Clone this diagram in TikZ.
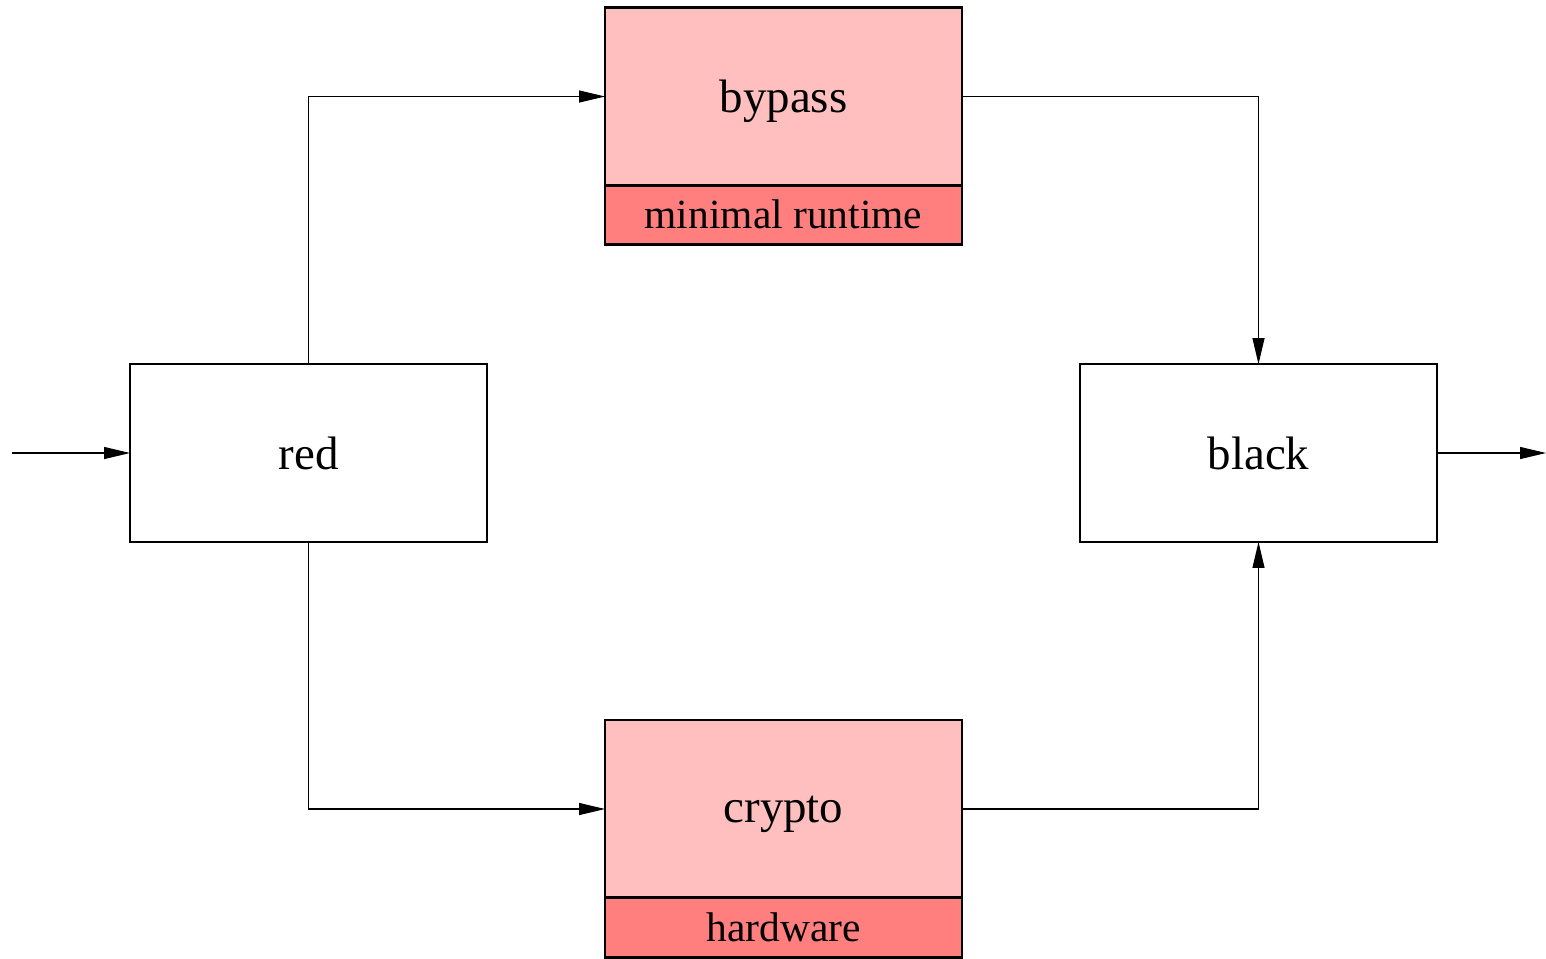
\documentclass[tikz,border=0pt]{standalone}
\usepackage{fontspec}
\setmainfont{Liberation Serif}
\usetikzlibrary{arrows.meta}
\definecolor{lightpink}{HTML}{FFBFBF}
\definecolor{darkpink}{HTML}{FF7F7F}
\tikzset{
  box/.style={draw, line width=1.5pt, inner sep=0pt, outer sep=0pt, minimum width=7.14cm, minimum height=3.56cm, text depth=0pt, font=\fontsize{26.7}{30}\selectfont},
  upper/.style={box, fill=lightpink},
  lower/.style={draw, line width=1.5pt, inner sep=0pt, outer sep=0pt, minimum width=7.14cm, minimum height=1.19cm, fill=darkpink, font=\fontsize{23.6}{26}\selectfont},
  conn/.style={line width=0.6pt, -{Triangle[length=14.7pt,width=6.8pt]}},
}
\begin{document}
\begin{tikzpicture}[x=0.02cm,y=-0.02cm]
\useasboundingbox (0,0) rectangle (1546,958);
\node[box] (red) at (308.5,453) {red};
\node[box] (black) at (1258.5,453) {black};
\node[upper] (bypass) at (783.5,96.5) {bypass};
\node[lower] (minrt) at (783.5,215) {\raisebox{1.5pt}{minimal runtime}};
\node[upper] (crypto) at (783.5,809) {crypto};
\node[lower] (hw) at (783.5,927.5) {hardware};
\coordinate (in) at (12,453);
\coordinate (out) at (1546,453);
\draw[conn] (in) -- (red.west);
\draw[conn] (black.east) -- (out);
\draw[conn] (red.north) |- (bypass.west);
\draw[conn] (bypass.east) -| (black.north);
\draw[conn] (red.south) |- (crypto.west);
\draw[conn] (crypto.east) -| (black.south);
\end{tikzpicture}
\end{document}
